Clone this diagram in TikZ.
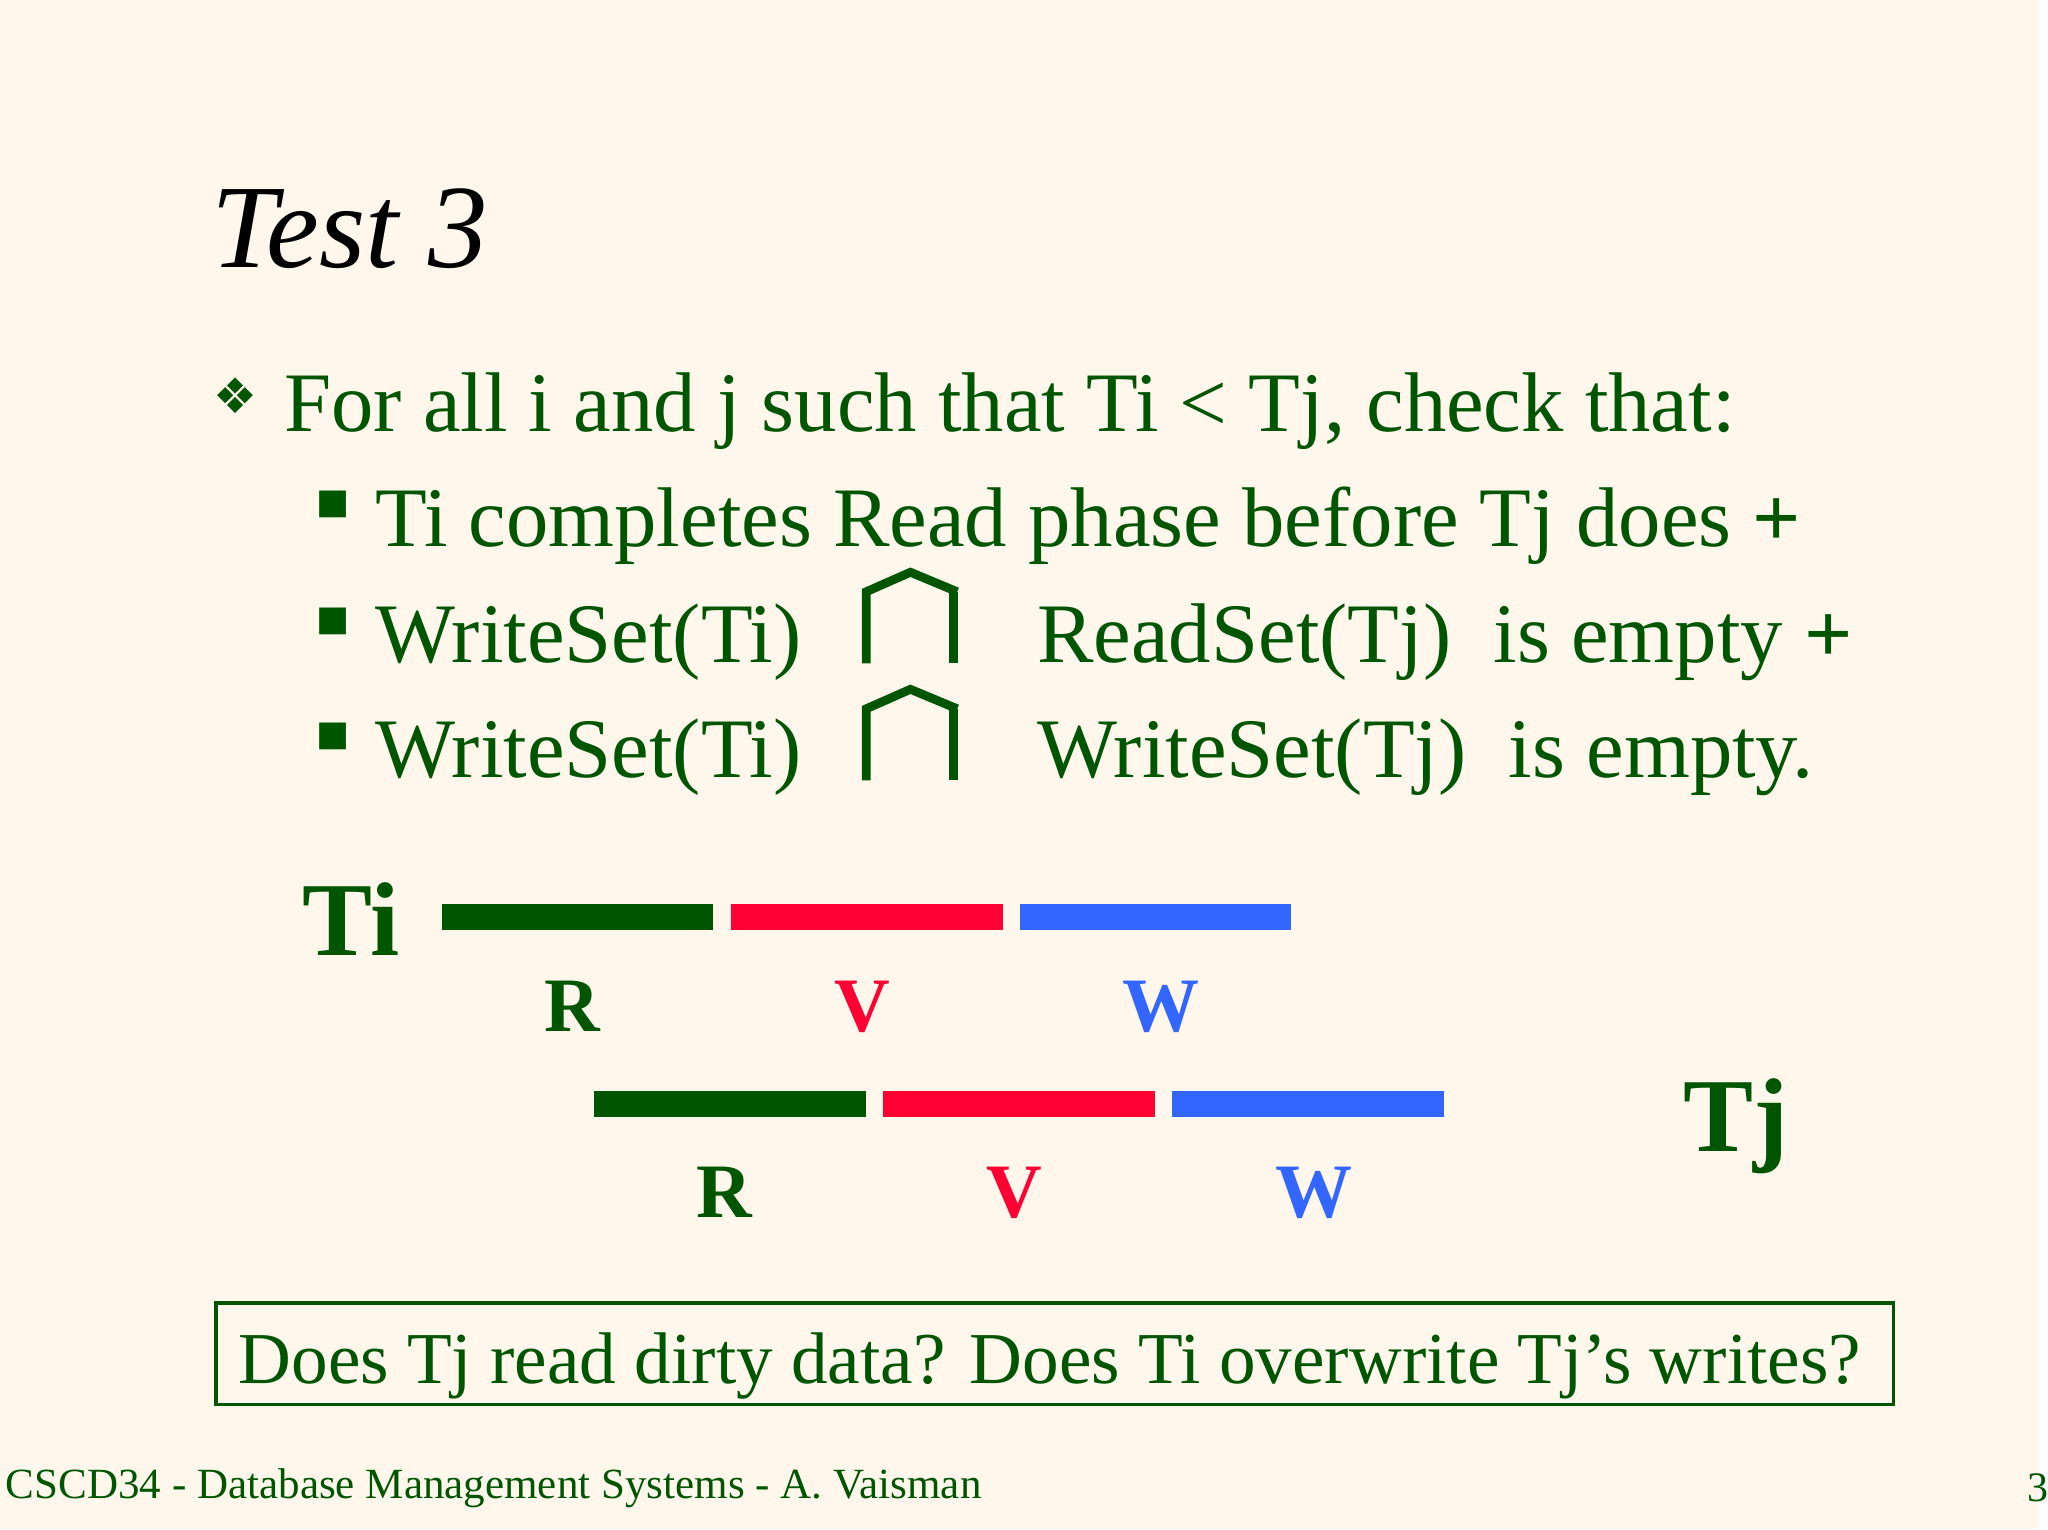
\documentclass[tikz,border=0pt]{standalone}
\usepackage{fontspec}
\setmainfont{Liberation Serif}
\newfontfamily\symf{DejaVu Sans}
\definecolor{bg}{RGB}{255,247,236}
\definecolor{dg}{RGB}{0,85,0}
\definecolor{rr}{RGB}{255,0,51}
\definecolor{bb}{RGB}{51,102,255}
\begin{document}
\begin{tikzpicture}[x=0.01306cm,y=-0.01306cm,
  txt/.style={anchor=west,inner sep=0,text=dg,font=\fontsize{24.2}{28}\selectfont},
  bar/.style={line width=7.5pt},
  lab/.style={inner sep=0,font=\bfseries\fontsize{22}{26}\selectfont},
  capline/.style={line width=2.5pt,dg},
  blt/.style={anchor=west,inner sep=0,text=dg,font=\symf\fontsize{10}{12}\selectfont}]
\fill[bg] (0,0) rectangle (1568,1176);
\node[anchor=west,inner sep=0,font=\itshape\fontsize{34}{40}\selectfont] (title) at (162,176) {Test 3};
\node[anchor=west,inner sep=0,text=dg,font=\symf\fontsize{14}{16}\selectfont] (d1) at (164,304) {❖};
\node[txt] (l1) at (218,316) {For all i and j such that Ti < Tj, check that:};
\node[blt] (b1) at (243,388) {■};
\node[blt] (b2) at (243,478) {■};
\node[blt] (b3) at (243,566) {■};
\node[txt] (l2) at (288,404) {Ti completes Read phase before Tj does \textbf{+}};
\node[txt] (l3a) at (288,494) {WriteSet(Ti)};
\node[txt] (l3b) at (797,494) {ReadSet(Tj)\ \ is empty \textbf{+}};
\node[txt] (l4a) at (288,582) {WriteSet(Ti)};
\node[txt] (l4b) at (797,582) {WriteSet(Tj)\ \ is empty.};
\foreach \y in {0,90}{
  \draw[capline] (666,510+\y) -- (666,455+\y) -- (700,440+\y) -- (736,455+\y);
  \draw[capline] (733,455+\y) -- (733,510+\y);
}
\node[lab,text=dg,font=\bfseries\fontsize{30}{34}\selectfont] (ti) at (270,707) {Ti};
\node[lab,text=dg,font=\bfseries\fontsize{30}{34}\selectfont] (tj) at (1335,866) {Tj};
\draw[bar,dg] (340,705) -- (548,705);
\draw[bar,rr] (562,705) -- (771,705);
\draw[bar,bb] (784,705) -- (993,705);
\draw[bar,dg] (457,849) -- (666,849);
\draw[bar,rr] (679,849) -- (888,849);
\draw[bar,bb] (901,849) -- (1110,849);
\node[lab,text=dg] (r1) at (440,774) {R};
\node[lab,text=rr] (v1) at (663,774) {V};
\node[lab,text=bb] (w1) at (893,774) {W};
\node[lab,text=dg] (r2) at (557,917) {R};
\node[lab,text=rr] (v2) at (780,917) {V};
\node[lab,text=bb] (w2) at (1010,917) {W};
\draw[dg,line width=1pt] (166,1002) rectangle (1456,1080);
\node[txt,font=\fontsize{20.9}{26}\selectfont] (q) at (183,1050) {Does Tj read dirty data? Does Ti overwrite Tj’s writes?};
\node[txt,font=\fontsize{12.3}{14}\selectfont] (f) at (4,1144) {CSCD34 - Database Management Systems - A. Vaisman};
\node[txt,font=\fontsize{12}{14}\selectfont] (pg) at (1558,1144) {3};
\end{tikzpicture}
\end{document}
